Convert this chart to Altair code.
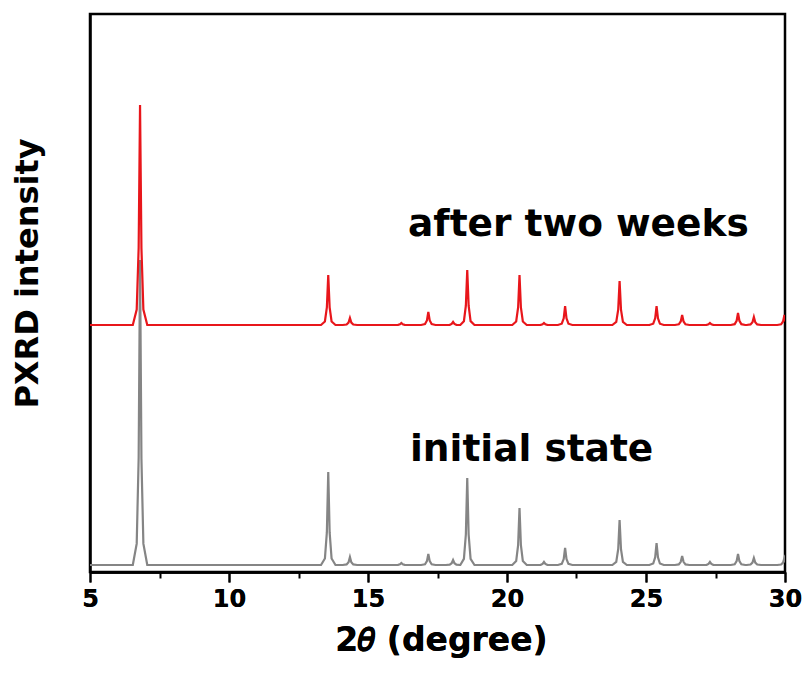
import altair as alt
import pandas as pd

# 2theta peak positions (degree)
peak_pos = [6.8, 13.57, 14.35, 16.2, 17.17, 18.06, 18.57, 20.45, 21.33,
            22.09, 24.05, 25.38, 26.3, 27.3, 28.31, 28.88, 29.98]
# peak heights above baseline (a.u.)
initial_h = [305, 93, 8, 2, 11, 5, 87, 57, 3, 17, 45, 22, 9, 3, 11, 7, 7]
after_h = [220, 50, 7, 2, 13, 3, 55, 50, 2, 19, 44, 19, 10, 2, 12, 8, 10]
# vertical offset of the stacked pattern
after_offset = 240

labels = ["initial state", "after two weeks"]
label_x = [16.51, 16.44]
label_y = [104, 329]

# peak profile template (shape only)
prof_dx = [-0.26, -0.12, -0.05, 0.0, 0.05, 0.12, 0.26]
prof_f = [0.0, 0.07, 0.35, 1.0, 0.35, 0.07, 0.0]


def build(heights, offset, name):
    rows = [{"t": 5.0, "i": offset, "s": name}]
    for p, h in zip(peak_pos, heights):
        for dx, f in zip(prof_dx, prof_f):
            rows.append({"t": p + dx, "i": offset + h * f, "s": name})
    rows.append({"t": 30.3, "i": offset, "s": name})
    return pd.DataFrame(rows)


df_init = build(initial_h, 0, "initial state")
df_after = build(after_h, after_offset, "after two weeks")
df_lab = pd.DataFrame({"label": labels, "t": label_x, "i": label_y})

FONT = "DejaVu Sans"
xscale = alt.Scale(domain=[5, 30], nice=False, zero=False)
yscale = alt.Scale(domain=[-7, 551], nice=False, zero=False)

x_main = alt.X("t:Q", scale=xscale, axis=alt.Axis(
    orient="bottom",
    values=[5, 10, 15, 20, 25, 30], format="d", tickSize=10, tickWidth=2,
    tickColor="black", domainColor="black", domainWidth=2.5, grid=False,
    labelFont=FONT, labelFontWeight="bold", labelFontSize=24,
    labelColor="black", labelPadding=5, labelFlush=False,
    title="2𝜃 (degree)", titleFont=FONT, titleFontWeight="bold",
    titleFontSize=33, titleColor="black", titleX=351, titleY=78,
    titleAlign="center", titleBaseline="alphabetic"))
x_minor = alt.X("t:Q", scale=xscale, axis=alt.Axis(
    orient="bottom",
    values=[7.5, 12.5, 17.5, 22.5, 27.5], tickSize=6, tickWidth=2,
    tickColor="black", labels=False, domain=False, grid=False, title=None))
y_main = alt.Y("i:Q", scale=yscale, axis=alt.Axis(
    orient="left",
    ticks=False, labels=False, grid=False, domainColor="black",
    domainWidth=2.5, title="PXRD intensity", titleFont=FONT,
    titleFontWeight="bold", titleFontSize=32, titleColor="black",
    titleX=-63, titleY=259, titleAlign="center", titleBaseline="middle"))

gray = alt.Chart(df_init).mark_line(color="#858585", strokeWidth=2.2, clip=True).encode(
    x=x_main, y=y_main, order="t:Q")
red = alt.Chart(df_after).mark_line(color="#e8161b", strokeWidth=2.2, clip=True).encode(
    x=x_minor, y=y_main, order="t:Q")
text = alt.Chart(df_lab).mark_text(
    align="left", baseline="alphabetic", font=FONT, fontWeight="bold",
    fontSize=37.5, color="black").encode(
    x=x_main, y=y_main, text="label:N")

chart = alt.layer(gray, red, text).resolve_axis(x="independent").properties(
    width=695, height=558,
    autosize=alt.AutoSizeParams(type="none"),
    padding={"left": 90, "top": 14, "right": 20, "bottom": 106},
    background="white",
).configure_view(stroke="black", strokeWidth=2.5)

chart.save("out.html", embed_options={"renderer": "svg", "actions": False})
